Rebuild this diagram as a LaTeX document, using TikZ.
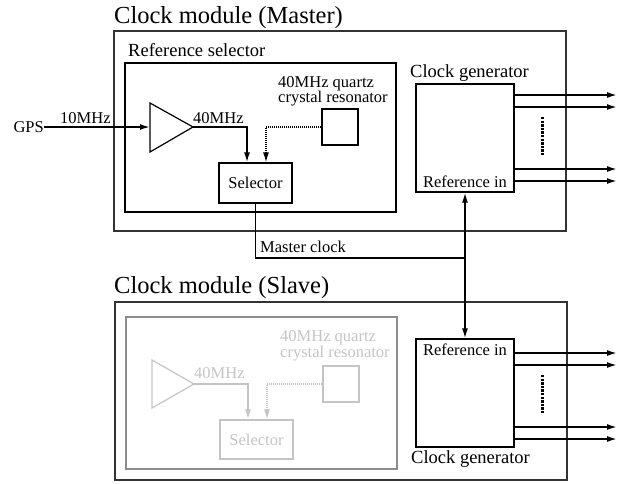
\documentclass[tikz,border=0pt]{standalone}
\usepackage{fontspec}
\setmainfont{Liberation Serif}
\usetikzlibrary{arrows.meta}
\definecolor{outerc}{HTML}{333333}
\definecolor{slavebox}{HTML}{8C8C8C}
\definecolor{slavefg}{HTML}{C4C4C4}
\tikzset{
  box/.style={draw, line width=1.2pt, inner sep=0pt, minimum width=#1},
  outerbox/.style={draw=outerc, line width=1.4pt, inner sep=0pt},
  conn/.style={line width=1.7pt, -{Latex[length=10pt,width=6pt]}},
  dotconn/.style={line width=1.3pt, dash pattern=on 1pt off 1pt, -{Latex[length=10pt,width=6pt]}},
  dotdash/.style={fill=black},
  big/.style={font=\fontsize{24.5}{28}\selectfont, inner sep=0pt},
  mid/.style={font=\fontsize{18.5}{22}\selectfont, inner sep=0pt},
  small/.style={font=\fontsize{16.5}{19}\selectfont, inner sep=0pt},
}
\begin{document}
\begin{tikzpicture}[x=1pt,y=-1pt]
\useasboundingbox (0,0) rectangle (629,483);
% ---------------- Master ----------------
\node[big, anchor=base west] (t1) at (114,23) {Clock module (Master)};
\node[outerbox, minimum width=452pt, minimum height=200pt] (m1) at (340,131) {};
\node[mid, anchor=base west] (rs1l) at (128,56) {Reference selector};
\node[draw, line width=1.4pt, inner sep=0pt, minimum width=271pt, minimum height=149pt] (rs1) at (260.5,137.5) {};
\draw[line width=1.2pt] (150,103) -- (150,152) -- (193,127) -- cycle;
\coordinate (a1in) at (150,127);
\coordinate (a1out) at (193,127);
\node[small, anchor=east] (gps) at (44,127) {GPS};
\node[small, anchor=base west] (f10) at (60,123) {10MHz};
\node[small, anchor=base west] (f40a) at (193,123) {40MHz};
\node[box=73pt, minimum height=40pt] (sel1) at (255.5,183) {};
\node[small] (sel1t) at (sel1.center) {Selector};
\node[box=36pt, minimum height=36pt] (xt1) at (340,127) {};
\node[small, anchor=base west] (xl1a) at (278,87) {40MHz quartz};
\node[small, anchor=base west] (xl1b) at (278,102) {crystal resonator};
\node[box=98pt, minimum height=108pt] (cg1) at (465,138) {};
\node[mid, anchor=base west] (cg1l) at (410,77) {Clock generator};
\node[small, anchor=base] (ri1) at (465,187) {Reference in};
\draw[conn] (gps.east) -- (a1in);
\coordinate (k1) at (247,127);
\draw[conn] (a1out) -- (k1) -- (k1 |- sel1.north);
\coordinate (d1) at (266,127);
\draw[dotconn] (xt1.west) -- (d1) -- (d1 |- sel1.north);
\foreach \yy [count=\i] in {95,107,169,181}{
  \coordinate (o1\i) at (617,\yy);
  \draw[conn] (cg1.east |- o1\i) -- (o1\i);
}
\foreach \k in {0,...,10}{
  \fill[dotdash] (540.5,117+3.6*\k) rectangle (543.5,119.4+3.6*\k);
}
% ---------------- Master clock link ----------------
\coordinate (jn) at (465,258);
\draw[line width=1.7pt] (sel1.south) |- (jn);
\node[small, anchor=base west] (mcl) at (260,252) {Master clock};
% ---------------- Slave ----------------
\node[big, anchor=base west] (t2) at (114,293) {Clock module (Slave)};
\node[outerbox, minimum width=452pt, minimum height=178pt] (m2) at (341,391) {};
\node[draw=slavebox, line width=1.4pt, inner sep=0pt, minimum width=271pt, minimum height=152pt] (rs2) at (261.5,393) {};
\begin{scope}[slavefg, draw=slavefg]
\draw[line width=1.2pt] (152,360) -- (152,408) -- (194,384) -- cycle;
\coordinate (a2out) at (194,384);
\node[small, anchor=base west] (f40b) at (194,378) {40MHz};
\node[box=73pt, minimum height=39pt] (sel2) at (256.5,439.5) {};
\node[small] (sel2t) at (sel2.center) {Selector};
\node[box=36pt, minimum height=36pt] (xt2) at (341,384) {};
\node[small, anchor=base west] (xl2a) at (280,341) {40MHz quartz};
\node[small, anchor=base west] (xl2b) at (280,357) {crystal resonator};
\coordinate (k2) at (248,384);
\draw[conn] (a2out) -- (k2) -- (k2 |- sel2.north);
\coordinate (d2) at (267,384);
\draw[dotconn] (xt2.west) -- (d2) -- (d2 |- sel2.north);
\end{scope}
\node[box=98pt, minimum height=108pt] (cg2) at (465,393) {};
\node[small, anchor=base] (ri2) at (465,355) {Reference in};
\node[mid, anchor=base west] (cg2l) at (411,463) {Clock generator};
\foreach \yy [count=\i] in {353,365,427,439}{
  \coordinate (o2\i) at (617,\yy);
  \draw[conn] (cg2.east |- o2\i) -- (o2\i);
}
\foreach \k in {0,...,10}{
  \fill[dotdash] (540.5,375+3.6*\k) rectangle (543.5,377.4+3.6*\k);
}
% bidirectional reference link
\draw[conn, {Latex[length=10pt,width=6pt]}-{Latex[length=10pt,width=6pt]}] (cg1.south) -- (cg2.north);
\end{tikzpicture}
\end{document}
